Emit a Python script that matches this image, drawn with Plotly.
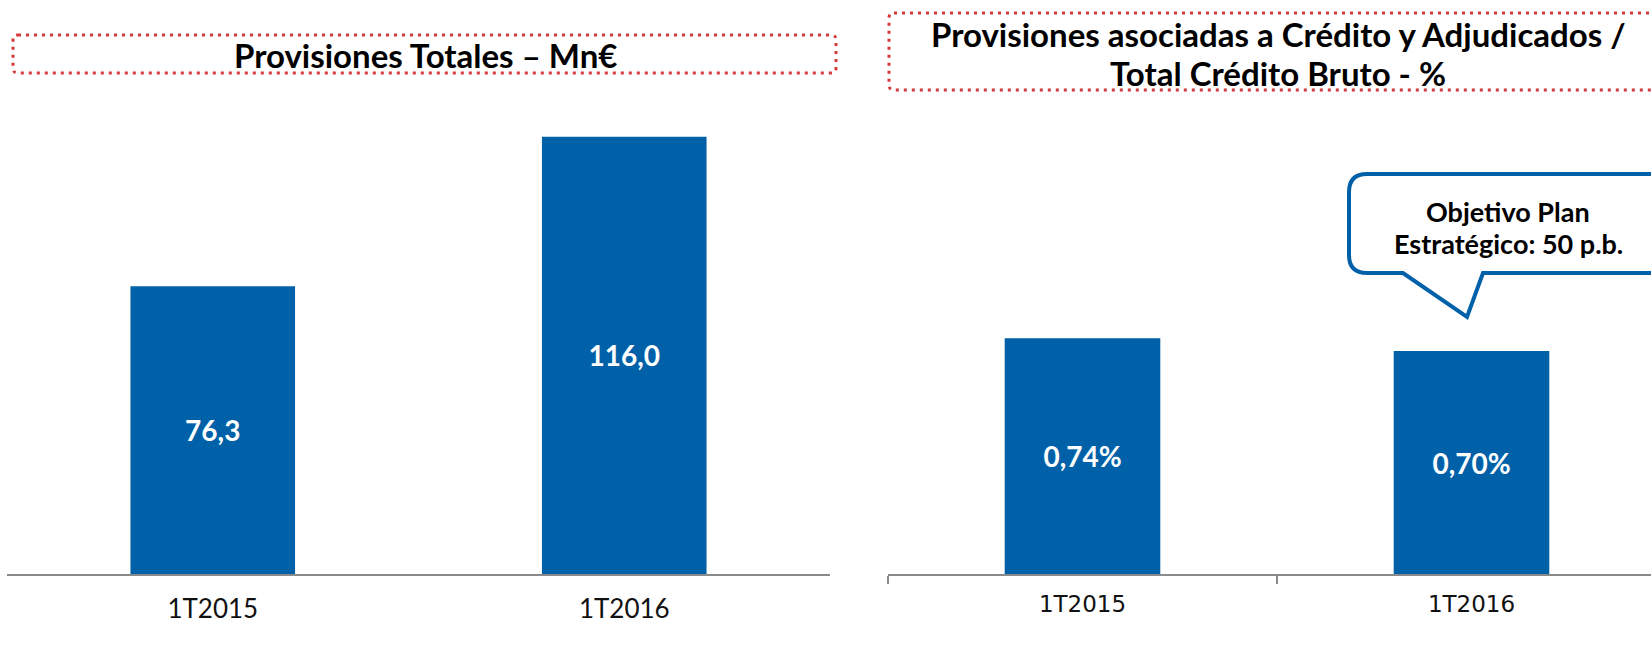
import plotly.graph_objects as go

# ---- data ----
categories = ["1T2015", "1T2016"]
provisiones_totales = [76.3, 116.0]          # Mn€
provisiones_pct = [0.74, 0.70]               # %
title_left = "Provisiones Totales – Mn€"
title_right_lines = ["Provisiones asociadas a Crédito y Adjudicados /", "Total Crédito Bruto - %"]
callout_lines = ["Objetivo Plan", "Estratégico: 50 p.b."]

W, H = 1651, 666
BLUE = "#0061A8"
RED = "#D63A3A"
GRAY = "#8A8A8A"
TITLE_FONT = "Lato, 'Open Sans', sans-serif"


def px(x):
    return x / W


def py(y):
    return 1 - y / H


fig = go.Figure()

fig.add_trace(go.Bar(
    x=categories, y=provisiones_totales, xaxis="x", yaxis="y",
    marker=dict(color=BLUE, line=dict(width=0)), width=0.4,
    texttemplate="%{y:.1f}", textposition="inside", insidetextanchor="middle",
    textangle=0, constraintext="none",
    textfont=dict(family=TITLE_FONT, size=28, color="white", weight="bold"),
    hoverinfo="skip", showlegend=False,
))
fig.add_trace(go.Bar(
    x=categories, y=provisiones_pct, xaxis="x2", yaxis="y2",
    marker=dict(color=BLUE, line=dict(width=0)), width=0.4,
    texttemplate="%{y:.2f}%", textposition="inside", insidetextanchor="middle",
    textangle=0, constraintext="none",
    textfont=dict(family=TITLE_FONT, size=28, color="white", weight="bold"),
    hoverinfo="skip", showlegend=False,
))

ydom = [92 / H, 1]
fig.update_layout(
    width=W, height=H, margin=dict(l=0, r=0, t=0, b=0),
    paper_bgcolor="white", plot_bgcolor="white",
    separators=",.",
    xaxis=dict(domain=[px(7), px(830)], type="category", range=[-0.5, 1.5],
               showline=True, linecolor=GRAY, linewidth=2, showgrid=False,
               zeroline=False, ticks="", anchor="y",
               tickfont=dict(family="Lato, 'Open Sans', sans-serif", size=26, color="#111"),
               ticklabelstandoff=11),
    yaxis=dict(domain=ydom, range=[0, 574 / 3.77], visible=False, anchor="x"),
    xaxis2=dict(domain=[px(888), 1], type="category", range=[-0.5, 0.5 + (W - 1277) / 389],
                showline=True, linecolor=GRAY, linewidth=2, showgrid=False,
                zeroline=False, ticks="outside", tickson="boundaries", ticklen=8,
                tickwidth=2, tickcolor=GRAY, anchor="y2",
                tickfont=dict(family="'DejaVu Sans', Verdana, sans-serif", size=23, color="#111"),
                ticklabelstandoff=8),
    yaxis2=dict(domain=ydom, range=[0, 574 / 318.5], visible=False, anchor="x2"),
)


def rounded_rect(x0, y0, x1, y1, r):
    pts = [
        f"M{px(x0 + r)},{py(y0)}",
        f"L{px(x1 - r)},{py(y0)}",
        f"Q{px(x1)},{py(y0)} {px(x1)},{py(y0 + r)}",
        f"L{px(x1)},{py(y1 - r)}",
        f"Q{px(x1)},{py(y1)} {px(x1 - r)},{py(y1)}",
        f"L{px(x0 + r)},{py(y1)}",
        f"Q{px(x0)},{py(y1)} {px(x0)},{py(y1 - r)}",
        f"L{px(x0)},{py(y0 + r)}",
        f"Q{px(x0)},{py(y0)} {px(x0 + r)},{py(y0)} Z",
    ]
    return " ".join(pts)


# dotted title boxes
for (x0, y0, x1, y1) in [(13, 35, 836, 73), (889, 13, 1700, 90)]:
    fig.add_shape(type="path", xref="paper", yref="paper",
                  path=rounded_rect(x0, y0, x1, y1, 5),
                  line=dict(color=RED, width=3, dash="3px,5px"), layer="above")

# callout bubble
r = 18
x0, y0, x1, y1 = 1349, 174, 1720, 273
callout = " ".join([
    f"M{px(x0 + r)},{py(y0)}",
    f"L{px(x1)},{py(y0)}",
    f"L{px(x1)},{py(y1)}",
    f"L{px(1483)},{py(y1)}",
    f"L{px(1467)},{py(317)}",
    f"L{px(1403)},{py(y1)}",
    f"L{px(x0 + r)},{py(y1)}",
    f"Q{px(x0)},{py(y1)} {px(x0)},{py(y1 - r)}",
    f"L{px(x0)},{py(y0 + r)}",
    f"Q{px(x0)},{py(y0)} {px(x0 + r)},{py(y0)} Z",
])
fig.add_shape(type="path", xref="paper", yref="paper", path=callout,
              line=dict(color=BLUE, width=4), fillcolor="white", layer="above")

fig.add_annotation(x=px(426), y=py(55), xref="paper", yref="paper",
                   text=title_left, showarrow=False, xanchor="center", yanchor="middle",
                   font=dict(family=TITLE_FONT, size=33, color="black", weight="bold"))
for txt, yc in zip(title_right_lines, [34, 73]):
    fig.add_annotation(x=px(1278), y=py(yc), xref="paper", yref="paper",
                       text=txt, showarrow=False, xanchor="center", yanchor="middle",
                       font=dict(family=TITLE_FONT, size=33, color="black", weight="bold"))
for txt, yc in zip(callout_lines, [211, 243]):
    fig.add_annotation(x=px(1508), y=py(yc), xref="paper", yref="paper",
                       text=txt, showarrow=False, xanchor="center", yanchor="middle",
                       font=dict(family=TITLE_FONT, size=27, color="black", weight="bold"))

fig.write_html("out.html", config={"displayModeBar": False},
               post_script="document.body.style.margin='0';")
